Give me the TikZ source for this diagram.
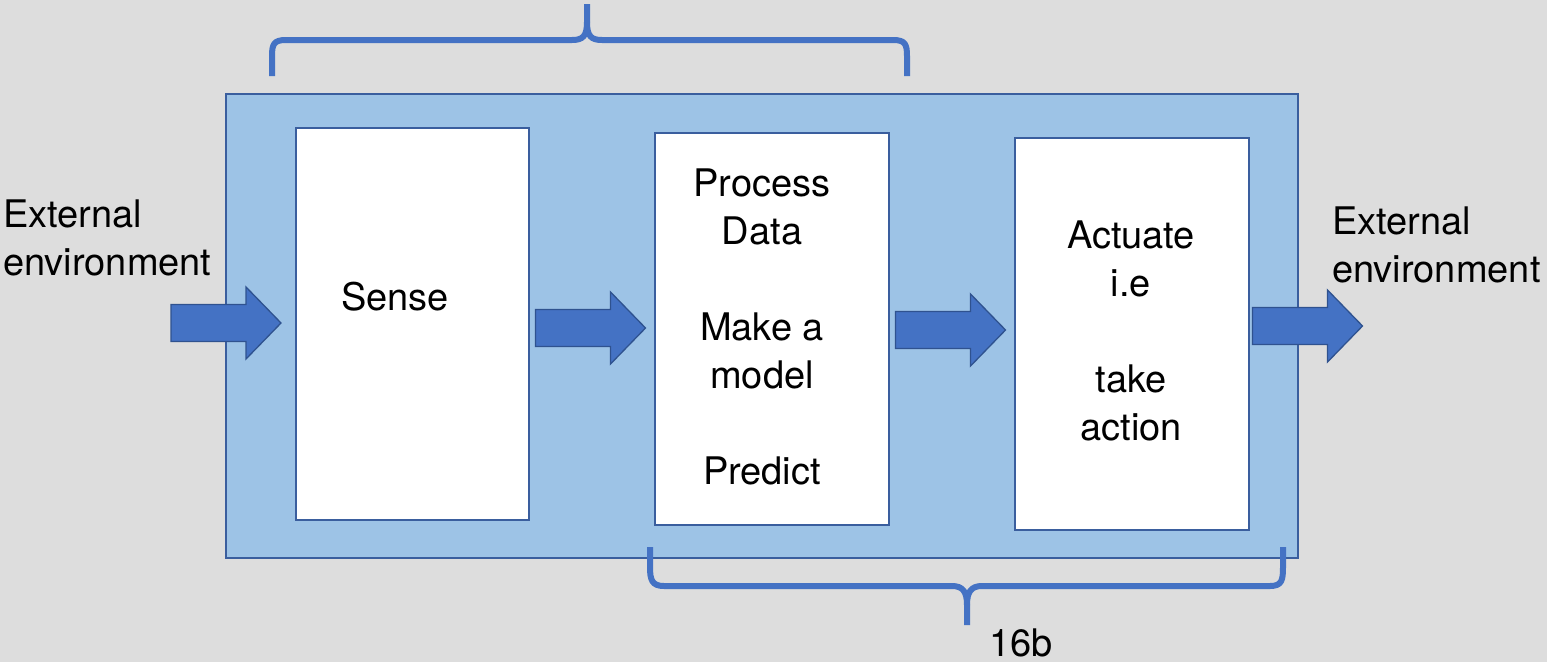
\documentclass[tikz,border=0pt]{standalone}
\usepackage{fontspec}
\setmainfont{TeX Gyre Heros}
\definecolor{bgc}{HTML}{DDDDDD}
\definecolor{panelfill}{HTML}{9DC3E6}
\definecolor{panelline}{HTML}{3A5E9E}
\definecolor{arrowfill}{HTML}{4472C4}
\definecolor{arrowline}{HTML}{2F528F}
\definecolor{bracec}{HTML}{4472C4}
\tikzset{
  panel/.style={draw=panelline, fill=panelfill, line width=2.5pt, inner sep=0pt},
  stagebox/.style={draw=panelline, fill=white, line width=2pt, inner sep=0pt, minimum width=234, minimum height=392},
  blockarrow/.style={draw=arrowline, fill=arrowfill, line width=1.3pt, line join=miter},
  lbl/.style={font=\fontsize{38}{48}\selectfont, inner sep=0pt, text=black},
  bracepath/.style={draw=bracec, line width=6pt, line cap=butt, line join=round}
}
\newcommand{\blockarrowat}[1]{%
  \draw[blockarrow, shift={(#1)}] (-55,-18.5) -- (20,-18.5) -- (20,-36) -- (55,0) -- (20,36) -- (20,18.5) -- (-55,18.5) -- cycle;}
\begin{document}
\begin{tikzpicture}[x=1pt,y=-1pt]
\fill[bgc] (0,0) rectangle (1547,662);
\useasboundingbox (0,0) rectangle (1547,662);

% main panel
\node[panel, minimum width=1072, minimum height=464] (panel) at (762,326) {};

% stage boxes
\node[stagebox, minimum width=233] (sense) at (412.5,324) {};
\node[stagebox] (process) at (772,329) {};
\node[stagebox] (actuate) at (1132,334) {};

% texts
\node[lbl, anchor=base] (sensetxt) at (395,310) {Sense};
\node[lbl, anchor=north, align=center] (processtxt) at (762,169)
  {Process\\Data\\[48pt]Make a\\model\\[48pt]Predict};
\node[lbl, anchor=north, align=center] (actuatetxt) at (1131,221)
  {Actuate\\i.e\\[48pt]take\\action};
\node[lbl, anchor=north west, align=left] (envin) at (3,200) {External\\environment};
\node[lbl, anchor=north west, align=left] (envout) at (1332,207) {External\\environment};

% block arrows
\coordinate (a1) at (226,323);
\coordinate (a2) at (590.5,328);
\coordinate (a3) at (950.5,330);
\coordinate (a4) at (1307.5,326);
\blockarrowat{a1}
\blockarrowat{a2}
\blockarrowat{a3}
\blockarrowat{a4}

% top brace
\path[bracepath] (272,76) -- (272,56) .. controls (272,44) and (274,40) .. (286,40) -- (572,40)
  .. controls (583,40) and (587,36) .. (587,22) -- (587,4);
\path[bracepath] (587,22) .. controls (587,36) and (591,40) .. (602,40) -- (893,40)
  .. controls (905,40) and (907,44) .. (907,56) -- (907,76);

% bottom brace
\path[bracepath] (650,547) -- (650,567) .. controls (650,580) and (652,586) .. (664,586) -- (952,586)
  .. controls (963,586) and (967,592) .. (967,605) -- (967,625);
\path[bracepath] (967,605) .. controls (967,592) and (971,586) .. (982,586) -- (1270,586)
  .. controls (1282,586) and (1283,580) .. (1283,567) -- (1283,547);

\node[lbl, anchor=base] (label16b) at (1021,656) {16b};
\end{tikzpicture}
\end{document}
